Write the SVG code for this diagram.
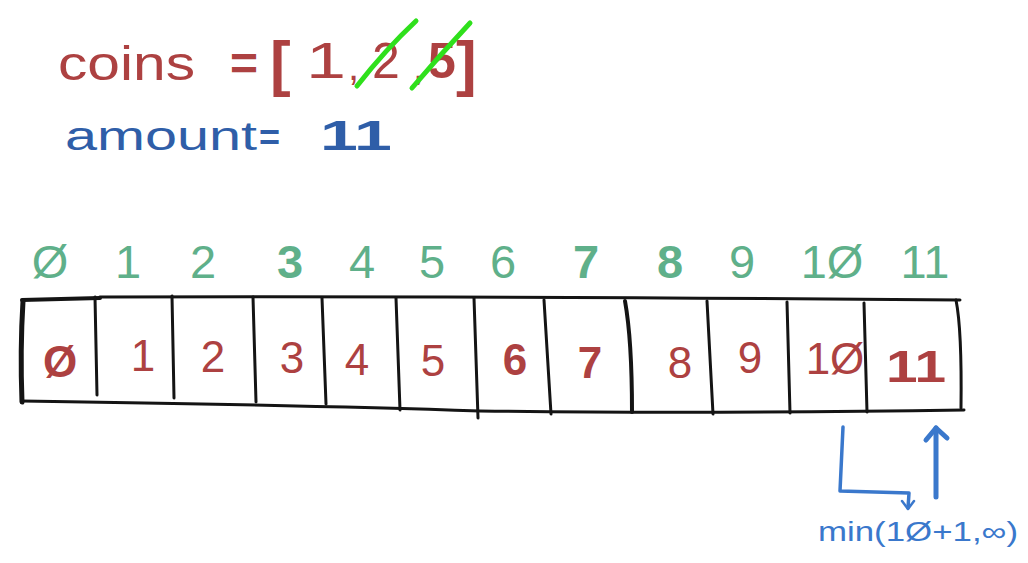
<svg xmlns="http://www.w3.org/2000/svg" width="1028" height="563" viewBox="0 0 1028 563">
<style>
.red{fill:#ad4141;font-family:"Liberation Sans",sans-serif}
.blue{fill:#2f5ea8;font-family:"Liberation Sans",sans-serif}
.green{fill:#5fb08a;font-family:"Liberation Sans",sans-serif;font-size:47px;text-anchor:middle}
.cell{fill:#ad4141;font-family:"Liberation Sans",sans-serif;font-size:44px;text-anchor:middle}
.ink{stroke:#141414;fill:none;stroke-linecap:round}
.strike{stroke:#2fe01c;stroke-width:5;stroke-linecap:round;fill:none}
.ann{stroke:#3a78cc;fill:none;stroke-linecap:round;stroke-linejoin:round}
</style>
<rect width="1028" height="563" fill="#ffffff"/>

<g id="coins">
<text class="red" x="58" y="80" font-size="48" textLength="137" lengthAdjust="spacingAndGlyphs">coins</text>
<text class="red" x="230" y="80" font-size="48" font-weight="bold">=</text>
<text class="red" x="270" y="84" font-size="62" font-weight="bold">[</text>
<text class="red" x="306" y="78" font-size="50" textLength="40" lengthAdjust="spacingAndGlyphs">1</text>
<text class="red" x="348" y="80" font-size="40">,</text>
<text class="red" x="372" y="78" font-size="50">2</text>
<text class="red" x="413" y="80" font-size="40">,</text>
<text class="red" x="428" y="78" font-size="50" font-weight="bold">5</text>
<text class="red" x="456" y="84" font-size="62" font-weight="bold">]</text>
<path class="strike" d="M357,86 Q385,50 416,21"/>
<path class="strike" d="M412,88 Q440,55 470,23"/>
</g>

<g id="amount">
<text class="blue" x="65" y="150" font-size="40" textLength="192" lengthAdjust="spacingAndGlyphs">amount</text>
<text class="blue" x="259" y="150" font-size="36" font-weight="bold">=</text>
<text class="blue" x="320" y="150" font-size="42" font-weight="bold" textLength="72" lengthAdjust="spacingAndGlyphs">11</text>
</g>

<g id="indices">
<text class="green" x="50" y="278">Ø</text>
<text class="green" x="128" y="278">1</text>
<text class="green" x="203" y="278">2</text>
<text class="green" x="290" y="278" font-weight="bold">3</text>
<text class="green" x="362" y="278">4</text>
<text class="green" x="432" y="278">5</text>
<text class="green" x="503" y="278">6</text>
<text class="green" x="586" y="278" font-weight="bold">7</text>
<text class="green" x="670" y="278" font-weight="bold">8</text>
<text class="green" x="742" y="278">9</text>
<text class="green" x="832" y="278">1Ø</text>
<text class="green" x="925" y="278">11</text>
</g>

<g id="array">
<path class="ink" stroke-width="4" d="M22,300 L100,298"/>
<path class="ink" stroke-width="3" d="M100,297 Q500,296 960,300"/>
<path class="ink" stroke-width="3" d="M22,401 Q300,405 480,411 Q700,414 964,410"/>
<path class="ink" stroke-width="5" d="M23,301 Q20,350 22,402"/>
<path class="ink" stroke-width="3" d="M95,297 L97,395"/>
<path class="ink" stroke-width="3" d="M172,296 L174,398"/>
<path class="ink" stroke-width="3" d="M253,297 L256,402"/>
<path class="ink" stroke-width="3" d="M322,298 L326,404"/>
<path class="ink" stroke-width="3" d="M396,298 L400,410"/>
<path class="ink" stroke-width="3" d="M474,298 L478,418"/>
<path class="ink" stroke-width="3" d="M544,300 L551,414"/>
<path class="ink" stroke-width="4" d="M625,301 Q632,340 632,412"/>
<path class="ink" stroke-width="3" d="M707,301 L713,414"/>
<path class="ink" stroke-width="3" d="M787,302 L790,413"/>
<path class="ink" stroke-width="3" d="M864,303 L867,412"/>
<path class="ink" stroke-width="3" d="M956,300 Q962,330 961,408"/>
</g>

<g id="values">
<text class="cell" x="60" y="377" font-size="58" font-weight="bold">Ø</text>
<text class="cell" x="143" y="371">1</text>
<text class="cell" x="213" y="372">2</text>
<text class="cell" x="292" y="373">3</text>
<text class="cell" x="357" y="375">4</text>
<text class="cell" x="433" y="376">5</text>
<text class="cell" x="515" y="375" font-weight="bold">6</text>
<text class="cell" x="590" y="378" font-weight="bold">7</text>
<text class="cell" x="680" y="378">8</text>
<text class="cell" x="750" y="373">9</text>
<text class="cell" x="835" y="374">1Ø</text>
<text class="cell" x="916" y="382" font-weight="bold" textLength="60" lengthAdjust="spacingAndGlyphs">11</text>
</g>

<g id="connectors">
<path class="ann" stroke-width="3.5" d="M843,427 L840,491 L909,493 L908,508"/>
<path class="ann" stroke-width="2.5" d="M902,501 L908,509 L914,501"/>
<path class="ann" stroke-width="5" d="M936,497 L936,428"/>
<path class="ann" stroke-width="5" d="M926,440 L936,428 L947,438"/>
</g>

<g id="annotation">
<text x="818" y="541" font-family="Liberation Sans,sans-serif" font-size="27" fill="#3a78cc" textLength="200" lengthAdjust="spacingAndGlyphs">min(1Ø+1,∞)</text>
</g>
</svg>
